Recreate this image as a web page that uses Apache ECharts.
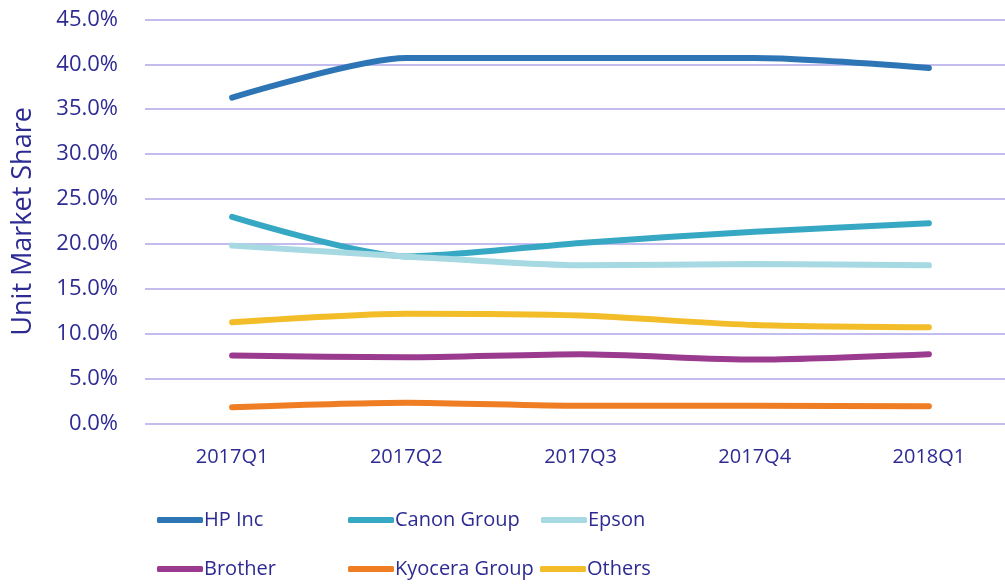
<!DOCTYPE html>
<html>
<head>
<meta charset="utf-8">
<script src="https://cdn.jsdelivr.net/npm/echarts@6/dist/echarts.min.js"></script>
<style>html,body{margin:0;padding:0;background:#fff}#c{width:1005px;height:584px}</style>
</head>
<body>
<div id="c"></div>
<script>
const categories = ['2017Q1','2017Q2','2017Q3','2017Q4','2018Q1'];
const hp = [36.3, 40.7, 40.7, 40.7, 39.6];
const canon = [23.0, 18.6, 20.1, 21.35, 22.3];
const epson = [19.8, 18.6, 17.6, 17.75, 17.6];
const brother = [7.55, 7.35, 7.7, 7.1, 7.7];
const kyocera = [1.8, 2.3, 1.95, 1.95, 1.9];
const others = [11.25, 12.2, 12.0, 10.95, 10.7];
const seriesNames = ['HP Inc','Canon Group','Epson','Brother','Kyocera Group','Others'];
const seriesData = [hp, canon, epson, brother, kyocera, others];
const colors = ['#2e75b6','#37a8c3','#a6d9e2','#9b3b8f','#ee7d23','#f2bd28'];
const yTicks = [0,5,10,15,20,25,30,35,40,45];

const textColor = '#2d2b92';
const font = 'Open Sans';
const legendPos = [[152,505],[343,505],[536,505],[152,554],[343,554],[535,554]];

const chart = echarts.init(document.getElementById('c'));
chart.setOption({
  animation:false,
  color: colors,
  grid:{left:145, right:-11, top:19.5, bottom:160.7, containLabel:false, outerBoundsMode:'none'},
  xAxis:{
    type:'category', data:categories, boundaryGap:true,
    axisLine:{show:false}, axisTick:{show:false},
    axisLabel:{color:textColor, fontFamily:font, fontSize:20, margin:24}
  },
  yAxis:{
    type:'value', min:yTicks[0], max:yTicks[yTicks.length-1], interval:5,
    name:'Unit Market Share', nameLocation:'middle', nameGap:108, nameRotate:90,
    nameTextStyle:{color:textColor, fontFamily:font, fontSize:27},
    axisLine:{show:false}, axisTick:{show:false},
    axisLabel:{color:textColor, fontFamily:font, fontSize:22, margin:27,
      formatter:v=>v.toFixed(1)+'%'},
    splitLine:{lineStyle:{color:'#c3bcef', width:2}}
  },
  legend: seriesNames.map((n,i)=>({
    data:[n], left:legendPos[i][0], top:legendPos[i][1],
    itemWidth:46, itemHeight:6, itemGap:0,
    icon:'roundRect',
    textStyle:{color:textColor, fontFamily:font, fontSize:20, padding:[0,0,0,-4]}
  })),
  series: seriesNames.map((n,i)=>({
    name:n, type:'line', data:seriesData[i], smooth:0.25,
    symbol:'none', lineStyle:{width:6, color:colors[i], cap:'round'},
    itemStyle:{color:colors[i]}
  }))
});
</script>
</body>
</html>
